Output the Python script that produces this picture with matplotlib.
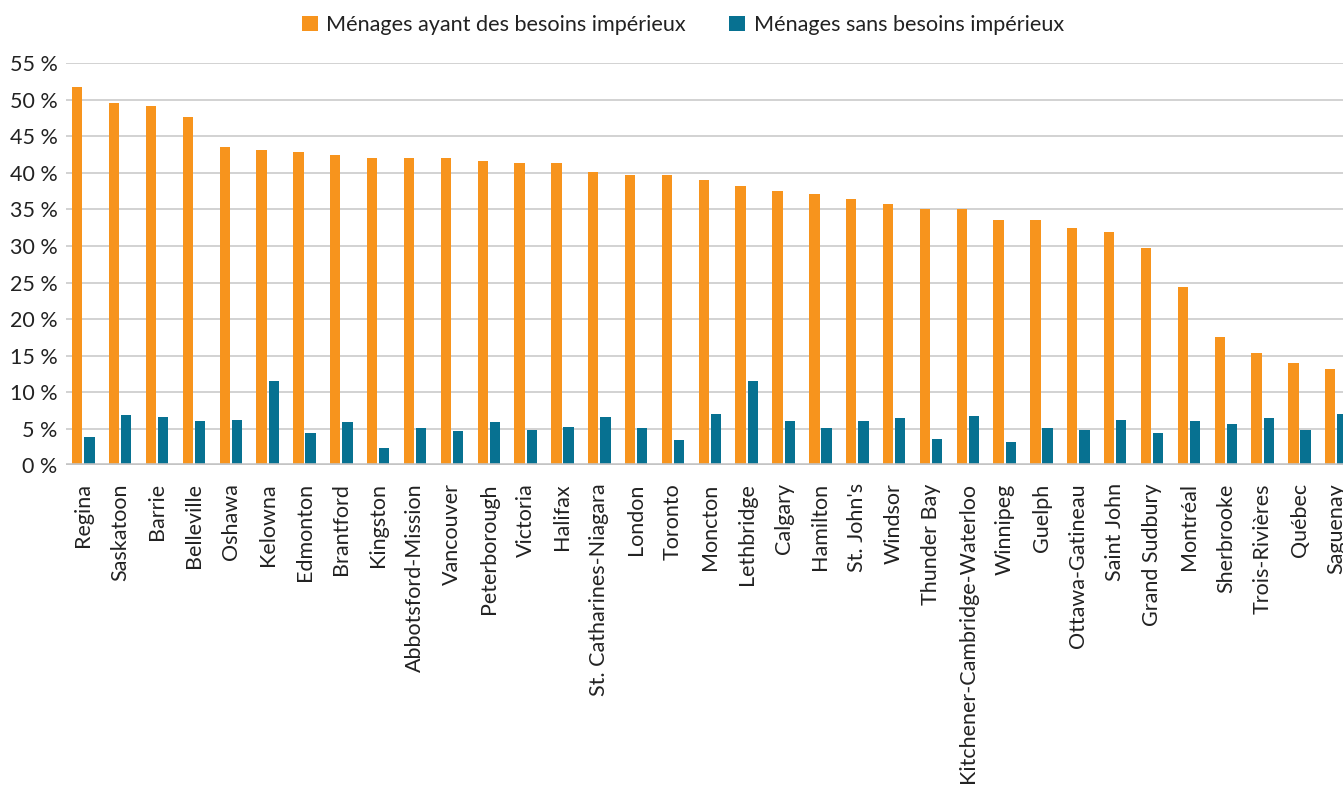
import matplotlib
matplotlib.use('Agg')
import matplotlib.pyplot as plt
import numpy as np

cities = ["Regina", "Saskatoon", "Barrie", "Belleville", "Oshawa", "Kelowna", "Edmonton",
          "Brantford", "Kingston", "Abbotsford-Mission", "Vancouver", "Peterborough",
          "Victoria", "Halifax", "St. Catharines-Niagara", "London", "Toronto", "Moncton",
          "Lethbridge", "Calgary", "Hamilton", "St. John's", "Windsor", "Thunder Bay",
          "Kitchener-Cambridge-Waterloo", "Winnipeg", "Guelph", "Ottawa-Gatineau",
          "Saint John", "Grand Sudbury", "Montréal", "Sherbrooke", "Trois-Rivières",
          "Québec", "Saguenay"]

core_need = [51.8, 49.6, 49.2, 47.6, 43.5, 43.1, 42.9, 42.5, 42.0, 42.0, 42.0, 41.7,
             41.3, 41.3, 40.1, 39.7, 39.7, 39.1, 38.2, 37.5, 37.1, 36.5, 35.8, 35.0,
             35.0, 33.6, 33.5, 32.4, 31.9, 29.7, 24.4, 17.6, 15.3, 14.0, 13.2]

no_core_need = [3.9, 6.9, 6.6, 6.0, 6.2, 11.5, 4.4, 5.9, 2.4, 5.1, 4.7, 5.9,
                4.8, 5.2, 6.6, 5.1, 3.5, 7.0, 11.5, 6.0, 5.1, 6.0, 6.5, 3.6,
                6.8, 3.2, 5.1, 4.8, 6.2, 4.4, 6.0, 5.6, 6.5, 4.8, 7.0]

series_labels = ["Ménages ayant des besoins impérieux", "Ménages sans besoins impérieux"]
yticks = [0, 5, 10, 15, 20, 25, 30, 35, 40, 45, 50, 55]

plt.rcParams['font.family'] = ['Lato', 'DejaVu Sans']

W, H = 1343, 792
fig = plt.figure(figsize=(W / 100, H / 100), dpi=100)
left_px, base_px, top_px = 66, 465.3, 63.3
ax = fig.add_axes([left_px / W, 1 - base_px / H, 1 - left_px / W, (base_px - top_px) / H])

x = np.arange(len(cities))
w = 0.28
off = 0.165
orange = '#F7941D'
teal = '#077191'
ax.bar(x - off, core_need, w, color=orange, label=series_labels[0], zorder=3)
ax.bar(x + off, no_core_need, w, color=teal, label=series_labels[1], zorder=3)

ax.set_xlim(-0.472, 34.18)
ax.set_ylim(0, 55)
ax.set_yticks(yticks)
ax.set_yticklabels([f"{v} %" for v in yticks], fontsize=15.5, color='#222222')
ax.set_xticks(x)
ax.set_xticklabels(cities, rotation=90, ha='center', va='top', fontsize=15.5, color='#222222')
ax.tick_params(axis='both', length=0)
ax.tick_params(axis='y', pad=6)
ax.tick_params(axis='x', pad=13)

for s in ax.spines.values():
    s.set_visible(False)
ax.yaxis.grid(True, color='#cfcfcf', lw=1.3, zorder=0)
ax.set_axisbelow(True)
ax.axhline(0, color='#c4c4c4', lw=2.6, zorder=4)

fig.legend(loc='center', bbox_to_anchor=(683 / W, 1 - 25 / H), ncol=2, frameon=False,
           fontsize=15.6, handlelength=0.72, handleheight=0.72, handletextpad=0.4,
           columnspacing=2.0, labelcolor='#222222')

fig.savefig('out.png', dpi=100)
